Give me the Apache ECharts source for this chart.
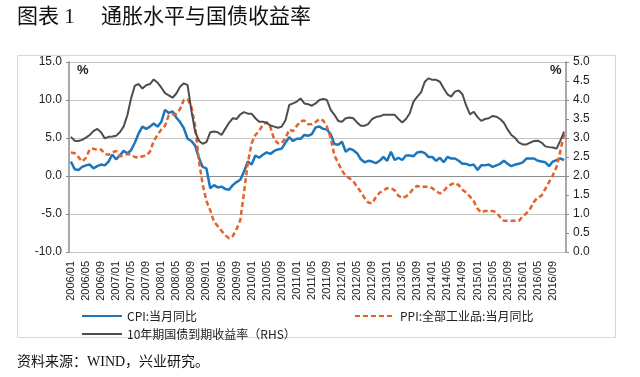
<!DOCTYPE html>
<html>

<head>
    <meta charset="utf-8">
    <title>通胀水平与国债收益率</title>
    <script src="https://cdn.jsdelivr.net/npm/echarts@6.0.0/dist/echarts.min.js"></script>
    <style>
        html, body { margin: 0; padding: 0; background: #fff; }
    </style>
</head>

<body>
    <div id="main" style="width: 640px;height:377px;"></div>
    <script type="text/javascript">
        // 月份 2006/01 - 2016/12
        var months = [];
        for (var y = 2006; y <= 2016; y++) {
            for (var m = 1; m <= 12; m++) {
                months.push(y + '/' + (m < 10 ? '0' + m : m));
            }
        }

        // CPI:当月同比
        var cpi = [
            1.9, 0.9, 0.8, 1.2, 1.4, 1.5, 1.0, 1.3, 1.5, 1.4, 1.9, 2.8,
            2.2, 2.7, 3.3, 3.0, 3.4, 4.4, 5.6, 6.5, 6.2, 6.5, 6.9, 6.5,
            7.1, 8.7, 8.3, 8.5, 7.7, 7.1, 6.3, 4.9, 4.6, 4.0, 2.4, 1.2,
            1.0, -1.6, -1.2, -1.5, -1.4, -1.7, -1.8, -1.2, -0.8, -0.5, 0.6, 1.9,
            1.5, 2.7, 2.4, 2.8, 3.1, 2.9, 3.3, 3.5, 3.6, 4.4, 5.1, 4.6,
            4.9, 4.9, 5.4, 5.3, 5.5, 6.4, 6.5, 6.2, 6.1, 5.5, 4.2, 4.1,
            4.5, 3.2, 3.6, 3.4, 3.0, 2.2, 1.8, 2.0, 1.9, 1.7, 2.0, 2.5,
            2.0, 3.2, 2.1, 2.4, 2.1, 2.7, 2.7, 2.6, 3.1, 3.2, 3.0, 2.5,
            2.5, 2.0, 2.4, 1.8, 2.5, 2.3, 2.3, 2.0, 1.6, 1.6, 1.4, 1.5,
            0.8, 1.4, 1.4, 1.5, 1.2, 1.4, 1.6, 2.0, 1.6, 1.3, 1.5, 1.6,
            1.8, 2.3, 2.3, 2.3, 2.0, 1.9, 1.8, 1.3, 1.9, 2.1, 2.3, 2.1
        ];

        // PPI:全部工业品:当月同比
        var ppi = [
            3.1, 3.0, 2.5, 1.9, 2.4, 3.5, 3.6, 3.4, 3.5, 2.9, 2.8, 3.1,
            3.3, 2.6, 2.7, 2.9, 2.8, 2.5, 2.4, 2.6, 2.7, 3.2, 4.6, 5.4,
            6.1, 6.6, 8.0, 8.1, 8.2, 8.8, 10.0, 10.1, 9.1, 6.6, 2.0, -1.1,
            -3.3, -4.5, -6.0, -6.6, -7.2, -7.8, -8.2, -7.9, -7.0, -5.8, -2.1, 1.7,
            4.3, 5.4, 5.9, 6.8, 7.1, 6.4, 4.8, 4.3, 4.3, 5.0, 6.1, 5.9,
            6.6, 7.2, 7.3, 6.8, 6.8, 7.1, 7.5, 7.3, 6.5, 5.0, 2.7, 1.7,
            0.7, 0.0, -0.3, -0.7, -1.4, -2.1, -2.9, -3.5, -3.6, -2.8, -2.2, -1.9,
            -1.6, -1.6, -1.9, -2.6, -2.9, -2.7, -2.3, -1.6, -1.3, -1.5, -1.4, -1.4,
            -1.6, -2.0, -2.3, -2.0, -1.4, -1.1, -0.9, -1.2, -1.8, -2.2, -2.7, -3.3,
            -4.3, -4.8, -4.6, -4.6, -4.6, -4.8, -5.4, -5.9, -5.9, -5.9, -5.9, -5.9,
            -5.3, -4.9, -4.3, -3.4, -2.8, -2.6, -1.7, -0.8, 0.1, 1.2, 3.3, 5.5
        ];

        // 10年期国债到期收益率（RHS）
        var bond10y = [
            3.03, 2.93, 2.92, 2.95, 3.01, 3.08, 3.18, 3.24, 3.15, 2.99, 3.03, 3.04,
            3.06, 3.15, 3.30, 3.60, 4.05, 4.38, 4.42, 4.30, 4.39, 4.42, 4.54, 4.46,
            4.33, 4.18, 4.12, 4.06, 4.17, 4.35, 4.44, 4.39, 3.72, 3.17, 2.93, 2.85,
            2.89, 3.15, 3.17, 3.15, 3.08, 3.24, 3.40, 3.52, 3.50, 3.62, 3.68, 3.64,
            3.64, 3.52, 3.43, 3.43, 3.39, 3.33, 3.30, 3.27, 3.30, 3.47, 3.87, 3.91,
            3.96, 4.04, 3.91, 3.89, 3.85, 3.91, 4.00, 4.03, 4.00, 3.74, 3.61, 3.45,
            3.43, 3.52, 3.54, 3.52, 3.41, 3.32, 3.32, 3.37, 3.50, 3.55, 3.57, 3.61,
            3.61, 3.61, 3.61, 3.50, 3.41, 3.50, 3.65, 3.96, 4.09, 4.20, 4.48, 4.57,
            4.53, 4.53, 4.48, 4.31, 4.15, 4.09, 4.22, 4.25, 4.15, 3.85, 3.62, 3.69,
            3.55, 3.45, 3.50, 3.52, 3.58, 3.56, 3.50, 3.40, 3.22, 3.08, 3.00, 2.88,
            2.83, 2.83, 2.88, 2.92, 2.93, 2.88, 2.78, 2.76, 2.75, 2.72, 2.93, 3.17
        ];

        var leftTicks = [-10, 15, 5];   // min, max, interval
        var rightTicks = [0, 5, 0.5];

        var cnFont = '"Noto Sans CJK SC", "Liberation Sans", sans-serif';
        var serifFont = '"Liberation Serif", "Noto Sans CJK SC", serif';
        var axisGray = '#8c8c8c';

        var myChart = echarts.init(document.getElementById('main'));
        var option = {
            animation: false,
            textStyle: { fontFamily: cnFont },
            grid: {
                left: 69,
                right: 74,
                top: 62,
                bottom: 125
            },
            graphic: [
                {
                    type: 'rect',
                    shape: { x: 17.5, y: 55.5, width: 598, height: 282 },
                    style: { fill: 'none', stroke: '#d6d6d6', lineWidth: 1 }
                },
                {
                    type: 'text', left: 17, top: 7,
                    style: { text: '图表 1　 通胀水平与国债收益率', fill: '#111', font: '21px ' + serifFont }
                },
                {
                    type: 'text', left: 17, top: 355,
                    style: { text: '资料来源：WIND，兴业研究。', fill: '#111', font: '14px ' + serifFont }
                },
                {
                    type: 'text', left: 77, top: 64,
                    style: { text: '%', fill: '#222', font: 'bold 13px "Liberation Sans"' }
                },
                {
                    type: 'text', left: 550, top: 64,
                    style: { text: '%', fill: '#222', font: 'bold 13px "Liberation Sans"' }
                }
            ],
            legend: [
                {
                    orient: 'vertical',
                    left: 76,
                    top: 305,
                    itemWidth: 40,
                    itemHeight: 12,
                    itemGap: 6,
                    itemStyle: { opacity: 0 },
                    textStyle: { fontSize: 12, color: '#222', fontFamily: cnFont },
                    data: ['CPI:当月同比', '10年期国债到期收益率（RHS）']
                },
                {
                    left: 349,
                    top: 305,
                    itemWidth: 40,
                    itemHeight: 12,
                    itemStyle: { opacity: 0 },
                    textStyle: { fontSize: 12, color: '#222', fontFamily: cnFont },
                    data: ['PPI:全部工业品:当月同比']
                }
            ],
            xAxis: [
                {
                    // 零轴与刻度
                    type: 'category',
                    data: months,
                    boundaryGap: true,
                    axisLine: { onZero: true, lineStyle: { color: axisGray, width: 1 } },
                    axisTick: { interval: 3, length: 4, lineStyle: { color: axisGray } },
                    axisLabel: { show: false },
                    splitLine: { show: false }
                },
                {
                    // 底部月份标签
                    type: 'category',
                    data: months,
                    position: 'bottom',
                    boundaryGap: true,
                    axisLine: { show: false, onZero: false },
                    axisTick: { show: false },
                    axisLabel: {
                        interval: 3,
                        rotate: 90,
                        margin: 9,
                        fontSize: 11,
                        color: '#222',
                        fontFamily: '"Liberation Sans", sans-serif'
                    },
                    splitLine: { show: false }
                }
            ],
            yAxis: [
                {
                    type: 'value',
                    position: 'left',
                    min: leftTicks[0],
                    max: leftTicks[1],
                    interval: leftTicks[2],
                    axisLine: { show: true, lineStyle: { color: axisGray, width: 1.5 } },
                    axisTick: { show: true, length: 3, lineStyle: { color: axisGray } },
                    axisLabel: {
                        margin: 7,
                        fontSize: 12,
                        color: '#222',
                        fontFamily: '"Liberation Sans", sans-serif',
                        formatter: function (v) { return v.toFixed(1); }
                    },
                    splitLine: { lineStyle: { color: '#c4c4c4', width: 1 } }
                },
                {
                    type: 'value',
                    position: 'right',
                    min: rightTicks[0],
                    max: rightTicks[1],
                    interval: rightTicks[2],
                    axisLine: { show: true, lineStyle: { color: axisGray, width: 1.5 } },
                    axisTick: { show: true, length: 3, lineStyle: { color: axisGray } },
                    axisLabel: {
                        margin: 7,
                        fontSize: 12,
                        color: '#222',
                        fontFamily: '"Liberation Sans", sans-serif',
                        formatter: function (v) { return v.toFixed(1); }
                    },
                    splitLine: { show: false }
                }
            ],
            series: [
                {
                    name: 'CPI:当月同比',
                    type: 'line',
                    yAxisIndex: 0,
                    data: cpi,
                    symbol: 'none',
                    itemStyle: { color: '#1d76bb' },
                    lineStyle: { color: '#1d76bb', width: 2.5 }
                },
                {
                    name: 'PPI:全部工业品:当月同比',
                    type: 'line',
                    yAxisIndex: 0,
                    data: ppi,
                    symbol: 'none',
                    itemStyle: { color: '#e5622a' },
                    lineStyle: { color: '#e5622a', width: 2.5, type: [5, 3] }
                },
                {
                    name: '10年期国债到期收益率（RHS）',
                    type: 'line',
                    yAxisIndex: 1,
                    data: bond10y,
                    symbol: 'none',
                    itemStyle: { color: '#4d4d4d' },
                    lineStyle: { color: '#4d4d4d', width: 2 }
                }
            ]
        };

        myChart.setOption(option);
    </script>
</body>

</html>
